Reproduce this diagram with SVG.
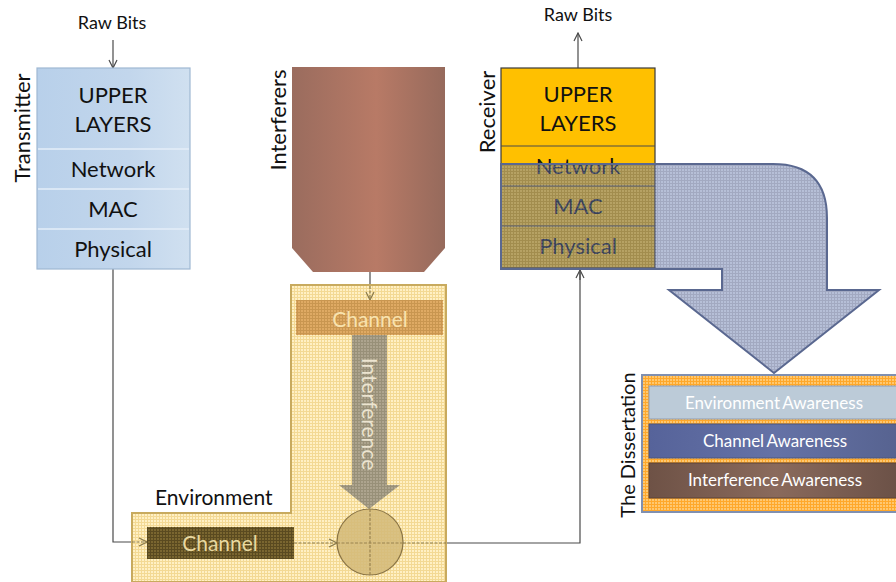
<svg xmlns="http://www.w3.org/2000/svg" width="896" height="582" viewBox="0 0 896 582">
  <defs>
    <style>
      text { font-family: Lato, "Open Sans", "Liberation Sans", sans-serif; }
      .lbl { font-size: 22px; fill: #111; text-anchor: middle; }
      .side { font-size: 22px; fill: #111; text-anchor: middle; }
      .small { font-size: 18px; fill: #111; text-anchor: middle; }
      .bar { font-size: 17px; fill: #fff; text-anchor: middle; word-spacing: -1.5px; }
      .wire { fill: none; stroke: #4a4a4a; stroke-width: 1.2; }
      .wire-in { fill: none; stroke: #8a7a4a; stroke-width: 1.2; stroke-dasharray: 3 1.5; }
      .txdiv { stroke: #e4eef8; stroke-width: 1.5; }
      .rxdiv { stroke: #4a4a4a; stroke-width: 1.2; }
    </style>
    <marker id="open" viewBox="0 0 10 10" refX="9" refY="5" markerWidth="10" markerHeight="10" markerUnits="userSpaceOnUse" orient="auto">
      <path d="M1,1 L9,5 L1,9" fill="none" stroke="#4a4a4a" stroke-width="1.2"/>
    </marker>
    <marker id="open-in" viewBox="0 0 10 10" refX="9" refY="5" markerWidth="10" markerHeight="10" markerUnits="userSpaceOnUse" orient="auto">
      <path d="M1,1 L9,5 L1,9" fill="none" stroke="#8a7a4a" stroke-width="1.2"/>
    </marker>
    <!-- fine grid textures -->
    <pattern id="gEnv" width="3" height="3" patternUnits="userSpaceOnUse">
      <rect width="3" height="3" fill="#fff0c4"/>
      <path d="M0,0.5H3M0.5,0V3" stroke="#f3d994" stroke-width="1"/>
    </pattern>
    <pattern id="gChanTop" width="3" height="3" patternUnits="userSpaceOnUse">
      <rect width="3" height="3" fill="#dfaa64"/>
      <path d="M0,0.5H3M0.5,0V3" stroke="#c99650" stroke-width="1"/>
    </pattern>
    <pattern id="gChanBot" width="3" height="3" patternUnits="userSpaceOnUse">
      <rect width="3" height="3" fill="#7a6630"/>
      <path d="M0,0.5H3M0.5,0V3" stroke="#5a4a20" stroke-width="1"/>
    </pattern>
    <pattern id="gIntf" width="3" height="3" patternUnits="userSpaceOnUse">
      <rect width="3" height="3" fill="#ada48e"/>
      <path d="M0,0.5H3M0.5,0V3" stroke="#989078" stroke-width="1"/>
    </pattern>
    <pattern id="gArrow" width="3" height="3" patternUnits="userSpaceOnUse">
      <rect width="3" height="3" fill="#7a8ab6"/>
      <path d="M0,0.5H3M0.5,0V3" stroke="#56638e" stroke-width="1"/>
    </pattern>
    <pattern id="gDiss" width="3" height="3" patternUnits="userSpaceOnUse">
      <rect width="3" height="3" fill="#ffc870"/>
      <path d="M0,0.5H3M0.5,0V3" stroke="#ffa82a" stroke-width="1"/>
    </pattern>
    <linearGradient id="txFill" x1="0" y1="0" x2="1" y2="0">
      <stop offset="0" stop-color="#b8d0ea"/>
      <stop offset="0.6" stop-color="#c2d6ec"/>
      <stop offset="1" stop-color="#d0e0f0"/>
    </linearGradient>
    <linearGradient id="ifFill" x1="0" y1="0" x2="1" y2="0">
      <stop offset="0" stop-color="#9a6c5e"/>
      <stop offset="0.55" stop-color="#b87a66"/>
      <stop offset="1" stop-color="#966a5c"/>
    </linearGradient>
    <linearGradient id="chAw" x1="0" y1="0" x2="1" y2="0">
      <stop offset="0" stop-color="#56639a"/>
      <stop offset="0.5" stop-color="#6572a6"/>
      <stop offset="1" stop-color="#56628f"/>
    </linearGradient>
    <linearGradient id="ifAw" x1="0" y1="0" x2="1" y2="0">
      <stop offset="0" stop-color="#6e5246"/>
      <stop offset="0.5" stop-color="#8a6a5c"/>
      <stop offset="1" stop-color="#6a5046"/>
    </linearGradient>
  </defs>

  <!-- connectors -->
  <g id="connectors">
    <line class="wire" x1="113" y1="40" x2="113" y2="68" marker-end="url(#open)"/>
    <polyline class="wire" points="113,269 113,542 132,542"/>
    <line class="wire" x1="370" y1="272" x2="370" y2="286"/>
    <polyline class="wire" points="446,543 580,543 580,272"/>
    <line class="wire" x1="580" y1="280" x2="580" y2="270" marker-end="url(#open)"/>
    <line class="wire" x1="578" y1="68" x2="578" y2="33" marker-end="url(#open)"/>
  </g>

  <!-- Transmitter -->
  <g id="transmitter">
    <text class="small" x="112" y="29">Raw Bits</text>
    <rect x="37" y="68" width="153" height="201" fill="url(#txFill)" stroke="#9fb8d2" stroke-width="1.2"/>
    <line class="txdiv" x1="38" y1="149" x2="189" y2="149"/>
    <line class="txdiv" x1="38" y1="189" x2="189" y2="189"/>
    <line class="txdiv" x1="38" y1="229" x2="189" y2="229"/>
    <text class="lbl" x="113" y="103">UPPER</text>
    <text class="lbl" x="113" y="132">LAYERS</text>
    <text class="lbl" x="113" y="177">Network</text>
    <text class="lbl" x="113" y="217">MAC</text>
    <text class="lbl" x="113" y="257">Physical</text>
    <text class="side" transform="translate(30,128) rotate(-90)">Transmitter</text>
  </g>

  <!-- Interferers -->
  <g id="interferers">
    <path d="M292,67 H445 V248 L424,272 H313 L292,248 Z" fill="url(#ifFill)"/>
    <text class="side" transform="translate(286,120) rotate(-90)">Interferers</text>
  </g>

  <!-- Environment -->
  <g id="environment">
    <path d="M291,285 H446 V582 H132 V513 H291 Z" fill="url(#gEnv)" stroke="#c8aa5e" stroke-width="2"/>
    <text x="155" y="505" style="font-size:21px; fill:#111;">Environment</text>
    <line class="wire-in" x1="370" y1="286" x2="370" y2="300" marker-end="url(#open-in)"/>
    <line class="wire-in" x1="132" y1="542" x2="147" y2="542" marker-end="url(#open-in)"/>
    <line class="wire-in" x1="294" y1="543" x2="337" y2="543" marker-end="url(#open-in)"/>
    <line class="wire-in" x1="403" y1="543" x2="446" y2="543"/>
  </g>

  <g id="channel-top">
    <rect x="296" y="300" width="147" height="35" fill="url(#gChanTop)"/>
    <text x="370" y="327" style="font-size:21px; fill:#f8e2ae; text-anchor:middle;">Channel</text>
  </g>

  <g id="interference">
    <path d="M352,335 H387 V485 H400 L369,509 L339,485 H352 Z" fill="url(#gIntf)"/>
    <text transform="translate(362,414) rotate(90)" style="font-size:21px; fill:#ece4d0; text-anchor:middle;">Interference</text>
  </g>

  <g id="combiner">
    <circle cx="370" cy="542" r="33" fill="#d2b878" fill-opacity="0.85" stroke="#8a7444" stroke-width="1.2"/>
    <line x1="337" y1="543" x2="403" y2="543" stroke="#9a8450" stroke-width="1.2" stroke-dasharray="3 1.5"/>
    <line x1="370" y1="509" x2="370" y2="575" stroke="#9a8450" stroke-width="1.2" stroke-dasharray="3 1.5"/>
  </g>

  <g id="channel-bottom">
    <rect x="147" y="527" width="147" height="32" fill="url(#gChanBot)"/>
    <text x="220" y="551" style="font-size:21px; fill:#e8d8a0; text-anchor:middle;">Channel</text>
  </g>

  <!-- Receiver -->
  <g id="receiver">
    <text class="small" x="578" y="21">Raw Bits</text>
    <rect x="501" y="68" width="154" height="200" fill="#ffc000" stroke="#3a3a3a" stroke-width="1.2"/>
    <line class="rxdiv" x1="501" y1="146" x2="655" y2="146"/>
    <line class="rxdiv" x1="501" y1="186" x2="655" y2="186"/>
    <line class="rxdiv" x1="501" y1="226" x2="655" y2="226"/>
    <text class="lbl" x="578" y="102">UPPER</text>
    <text class="lbl" x="578" y="131">LAYERS</text>
    <text class="lbl" x="578" y="174">Network</text>
    <text class="lbl" x="578" y="214">MAC</text>
    <text class="lbl" x="578" y="254">Physical</text>
    <text class="side" transform="translate(495,112) rotate(-90)">Receiver</text>
  </g>

  <!-- bent arrow leading into the dissertation -->
  <g id="flow-arrow">
    <path d="M501,164 H773 Q827,164 827,218 V290 H879 L774,373 L669,290 H722 V269 H501 Z" fill="url(#gArrow)" fill-opacity="0.55"/>
    <path d="M501,164 H773 Q827,164 827,218 V290 H879 L774,373 L669,290 H722 V269 H501 Z" fill="none" stroke="#5a6890" stroke-width="2"/>
  </g>

  <!-- The Dissertation -->
  <g id="dissertation">
    <rect x="642" y="375" width="262" height="137" fill="url(#gDiss)" stroke="#8090b0" stroke-width="2"/>
    <rect x="649" y="386" width="254" height="33" fill="#bccbd8" stroke="#8e9cb4" stroke-width="1"/>
    <rect x="649" y="424" width="254" height="34" fill="url(#chAw)" stroke="#4a5680" stroke-width="1"/>
    <rect x="649" y="463" width="254" height="35" fill="url(#ifAw)" stroke="#5a4238" stroke-width="1"/>
    <text class="bar" x="774" y="409">Environment Awareness</text>
    <text class="bar" x="775" y="447">Channel Awareness</text>
    <text class="bar" x="775" y="486">Interference Awareness</text>
    <text class="side" transform="translate(635,445) rotate(-90)" style="font-size:20px;">The Dissertation</text>
  </g>
</svg>
